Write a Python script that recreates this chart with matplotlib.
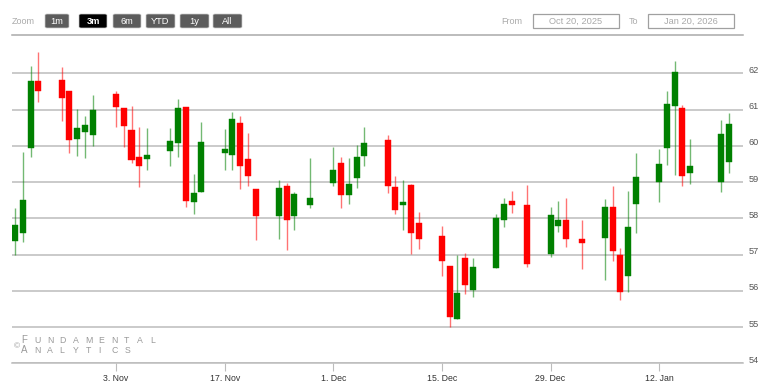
import numpy as np
import matplotlib
matplotlib.use("Agg")
import matplotlib.pyplot as plt
import matplotlib.dates as mdates
from matplotlib.patches import FancyBboxPatch, Rectangle
from matplotlib.transforms import ScaledTranslation
import datetime as dt

plt.rcParams['font.family'] = ['Liberation Sans', 'DejaVu Sans']

# daily candles
dates = ["2025-10-21", "2025-10-22", "2025-10-23", "2025-10-24",
         "2025-10-27", "2025-10-28", "2025-10-29", "2025-10-30", "2025-10-31",
         "2025-11-03", "2025-11-04", "2025-11-05", "2025-11-06", "2025-11-07",
         "2025-11-10", "2025-11-11", "2025-11-12", "2025-11-13", "2025-11-14",
         "2025-11-17", "2025-11-18", "2025-11-19", "2025-11-20", "2025-11-21",
         "2025-11-24", "2025-11-25", "2025-11-26", "2025-11-28",
         "2025-12-01", "2025-12-02", "2025-12-03", "2025-12-04", "2025-12-05",
         "2025-12-08", "2025-12-09", "2025-12-10", "2025-12-11", "2025-12-12",
         "2025-12-15", "2025-12-16", "2025-12-17", "2025-12-18", "2025-12-19",
         "2025-12-22", "2025-12-23", "2025-12-24", "2025-12-26",
         "2025-12-29", "2025-12-30", "2025-12-31", "2026-01-02",
         "2026-01-05", "2026-01-06", "2026-01-07", "2026-01-08", "2026-01-09",
         "2026-01-12", "2026-01-13", "2026-01-14", "2026-01-15", "2026-01-16",
         "2026-01-20", "2026-01-21"]

opens = [57.38, 57.60, 59.95, 61.80,
         61.82, 61.50, 60.19, 60.39, 60.30,
         61.42, 61.05, 60.44, 59.70, 59.65,
         59.87, 60.08, 61.06, 58.46, 58.72,
         59.80, 59.74, 60.62, 59.64, 58.81,
         58.06, 58.90, 58.06, 58.38,
         58.97, 59.52, 58.65, 59.11, 59.71,
         60.16, 58.87, 58.36, 58.92, 57.88,
         57.50, 56.69, 55.22, 56.90, 56.03,
         56.63, 57.94, 58.47, 58.36,
         57.02, 57.80, 57.95, 57.43,
         57.45, 58.32, 56.99, 56.41, 58.39,
         59.00, 59.94, 61.11, 61.05, 59.26,
         59.00, 59.56]

highs = [58.28, 59.84, 62.21, 62.60,
         62.18, 61.50, 61.03, 60.81, 61.40,
         61.50, 61.05, 61.10, 60.51, 60.49,
         60.49, 61.28, 61.06, 59.22, 60.66,
         60.46, 60.94, 60.81, 60.35, 58.81,
         59.06, 58.97, 58.73, 59.66,
         59.96, 59.68, 59.66, 60.03, 60.51,
         60.29, 59.17, 59.06, 58.96, 58.18,
         57.79, 56.69, 56.99, 57.04, 56.90,
         58.13, 58.56, 58.76, 58.91,
         58.30, 58.47, 58.56, 57.94,
         58.52, 58.89, 57.17, 58.75, 59.79,
         59.91, 61.51, 62.35, 61.14, 60.19,
         60.70, 60.90]

lows = [57.00, 57.35, 59.68, 61.22,
        60.69, 59.80, 59.72, 59.66, 60.00,
        60.53, 59.96, 59.54, 58.86, 59.34,
        59.43, 59.69, 58.31, 58.13, 58.72,
        59.34, 59.34, 58.81, 58.88, 57.41,
        57.44, 57.12, 57.69, 58.28,
        58.88, 58.28, 58.39, 58.83, 59.45,
        58.71, 58.12, 57.68, 57.02, 57.16,
        56.42, 54.99, 55.22, 55.91, 55.83,
        56.63, 57.76, 58.14, 56.67,
        56.93, 57.61, 57.22, 56.61,
        56.31, 56.83, 55.76, 55.97, 57.60,
        58.44, 59.47, 59.19, 58.90, 58.95,
        58.72, 59.24]

closes = [57.82, 58.50, 61.80, 61.50,
          61.31, 60.17, 60.48, 60.58, 60.99,
          61.06, 60.56, 59.60, 59.43, 59.75,
          60.14, 61.05, 58.49, 58.70, 60.10,
          59.92, 60.74, 59.45, 59.16, 58.06,
          58.84, 57.94, 58.66, 58.56,
          59.32, 58.65, 58.95, 59.68, 60.07,
          58.89, 58.23, 58.46, 57.59, 57.44,
          56.81, 55.28, 55.94, 56.15, 56.67,
          58.02, 58.39, 58.36, 56.74,
          58.08, 57.95, 57.43, 57.32,
          58.30, 57.11, 55.96, 57.75, 59.13,
          59.50, 61.15, 62.03, 59.18, 59.45,
          60.33, 60.61]

tick_dates = ["2025-11-03", "2025-11-17", "2025-12-01", "2025-12-15", "2025-12-29", "2026-01-12"]
tick_labels = ["3. Nov", "17. Nov", "1. Dec", "15. Dec", "29. Dec", "12. Jan"]
y_ticks = [54, 55, 56, 57, 58, 59, 60, 61, 62]

#----------------------------------------------#
W, H = 767, 389
fig = plt.figure(figsize=(W / 100, H / 100), dpi=100)
fig.patch.set_facecolor("white")

def px(x0, y0, x1, y1):
    return [x0 / W, 1 - y1 / H, (x1 - x0) / W, (y1 - y0) / H]

ax = fig.add_axes(px(12, 40, 743, 363.3))

x = mdates.date2num([dt.datetime.strptime(d, "%Y-%m-%d") for d in dates])
o = np.array(opens)
h = np.array(highs)
l = np.array(lows)
c = np.array(closes)
up = c >= o
cols = np.where(up, "#008000", "#ff0000")

ax.vlines(x, l, h, colors=cols, linewidth=1.0, alpha=0.55, zorder=2)
ax.bar(x, np.maximum(np.abs(c - o), 0.06), bottom=np.minimum(o, c), width=0.78,
       color=cols, edgecolor=cols, linewidth=0.3, zorder=3)

x_nov3 = mdates.date2num(dt.datetime(2025, 11, 3))
ax.set_xlim(x_nov3 - 13.4, x_nov3 + 80.8)
ax.set_ylim(54, 62.92)

ax.set_yticks(y_ticks)
ax.grid(axis="y", color="#bcbcbc", linewidth=1.1)
ax.set_axisbelow(True)
ax.yaxis.tick_right()
ax.tick_params(axis="y", length=0, pad=4, labelsize=6.6, labelcolor="#555555")
for lbl in ax.get_yticklabels():
    lbl.set_transform(lbl.get_transform() + ScaledTranslation(0, 4 / 100, fig.dpi_scale_trans))

ax.set_xticks(mdates.date2num([dt.datetime.strptime(d, "%Y-%m-%d") for d in tick_dates]))
ax.set_xticklabels(tick_labels)
ax.tick_params(axis="x", length=6, width=0.8, color="#bcbcbc", pad=2,
               labelsize=6.3, labelcolor="#333333")

for s in ["top", "left", "right"]:
    ax.spines[s].set_visible(False)
ax.spines["bottom"].set_color("#bcbcbc")
ax.spines["bottom"].set_linewidth(1.1)

# watermark (spaced small caps)
wm = dict(color="#9a9a9a", va="baseline", ha="left")
fig.text(14 / W, 1 - 348 / H, "\u00a9", fontsize=6.0, **wm)
for row, word, base in [(0, "FUNDAMENTAL", 343), (1, "ANALYTICS", 353)]:
    for i, ch in enumerate(word):
        fig.text((21 + i * 12.9) / W, 1 - base / H, ch,
                 fontsize=7.0 if i == 0 else 6.3, **wm)

# header: range selector
fig.text(12 / W, 1 - 21 / H, "Zoom", fontsize=6.5, color="#aaaaaa", va="center")
buttons = [("1m", 45, 69), ("3m", 79, 107), ("6m", 113, 141),
           ("YTD", 146, 175), ("1y", 180, 209), ("All", 213, 242)]
for name, x0, x1 in buttons:
    sel = name == "3m"
    fig.patches.append(FancyBboxPatch((x0 / W, 1 - 28 / H), (x1 - x0) / W, 14 / H,
                                      boxstyle="round,pad=0,rounding_size=0.003",
                                      transform=fig.transFigure,
                                      facecolor="#000000" if sel else "#5c5c5c",
                                      edgecolor="#cccccc", linewidth=0.5))
    fig.text((x0 + x1) / 2 / W, 1 - 21 / H, name, fontsize=6.7, color="white",
             ha="center", va="center", fontweight="bold" if sel else "normal")

fig.text(501 / W, 1 - 21 / H, "From", fontsize=6.5, color="#aaaaaa", va="center")
fig.text(629 / W, 1 - 21 / H, "To", fontsize=6.5, color="#aaaaaa", va="center")
for label, x0, x1 in [("Oct 20, 2025", 533, 619), ("Jan 20, 2026", 648, 734)]:
    fig.patches.append(Rectangle((x0 / W, 1 - 28 / H), (x1 - x0) / W, 14.5 / H,
                                 transform=fig.transFigure, facecolor="white",
                                 edgecolor="#a0a0a0", linewidth=0.9))
    fig.text((x0 + x1) / 2 / W, 1 - 21 / H, label, fontsize=6.7, color="#aaaaaa",
             ha="center", va="center")

fig.add_artist(plt.Line2D([12 / W, 743 / W], [1 - 35 / H, 1 - 35 / H],
                          transform=fig.transFigure, color="#aaaaaa", linewidth=1.1))

fig.savefig("out.png", dpi=100)
